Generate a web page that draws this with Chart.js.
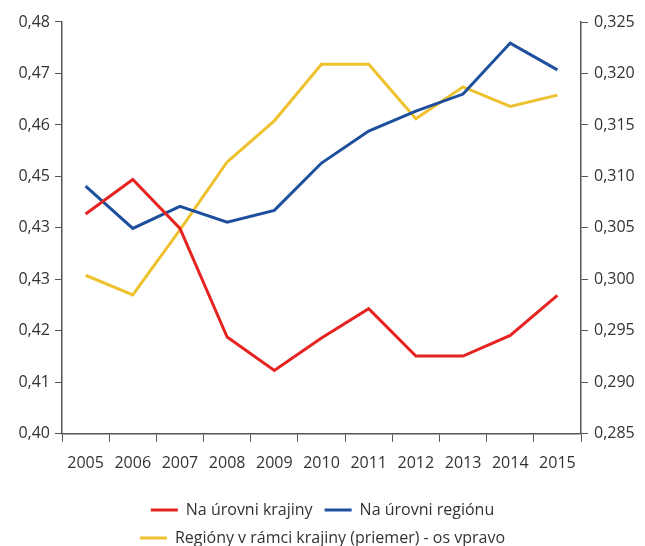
<!DOCTYPE html>
<html>
<head>
<meta charset="utf-8">
<script src="https://cdn.jsdelivr.net/npm/chart.js@4"></script>
<style>
  html, body { margin: 0; padding: 0; background: #fff; overflow: hidden; }
  #wrap { width: 645px; height: 556px; position: relative; }
</style>
</head>
<body>
<div id="wrap"><canvas id="chart"></canvas></div>
<script>
// --- DATA ---
const years = ["2005", "2006", "2007", "2008", "2009", "2010", "2011", "2012", "2013", "2014", "2015"];

// left axis
const krajiny = [0.4427, 0.4494, 0.4399, 0.4188, 0.4123, 0.4186, 0.4243, 0.4151, 0.4151, 0.4191, 0.4269];
const regionu = [0.4481, 0.4399, 0.4442, 0.4411, 0.4434, 0.4526, 0.4588, 0.4627, 0.4660, 0.4759, 0.4707];
// right axis
const priemer = [0.3004, 0.2985, 0.3048, 0.3114, 0.3154, 0.3209, 0.3209, 0.3156, 0.3187, 0.3168, 0.3179];

// tick labels as printed on the original (0,44 shows as "0,43")
const leftTickLabels = ["0,40", "0,41", "0,42", "0,43", "0,43", "0,45", "0,46", "0,47", "0,48"];
const rightTickLabels = ["0,285", "0,290", "0,295", "0,300", "0,305", "0,310", "0,315", "0,320", "0,325"];

const seriesNames = ["Na úrovni krajiny", "Na úrovni regiónu", "Regióny v rámci krajiny (priemer) - os vpravo"];

// --- CHART ---
const axisColor = "#555";
const textColor = "#333";
Chart.defaults.font.family = "'Open Sans', sans-serif";
Chart.defaults.font.size = 16;
Chart.defaults.color = textColor;

function line(label, data, color, axis) {
    return {
        label: label,
        data: data,
        borderColor: color,
        backgroundColor: color,
        borderWidth: 3,
        pointRadius: 0,
        tension: 0,
        yAxisID: axis,
    };
}

new Chart(document.getElementById("chart"), {
    type: "line",
    data: {
        labels: years,
        datasets: [
            line(seriesNames[0], krajiny, "#e52421", "y"),
            line(seriesNames[1], regionu, "#1d4f9c", "y"),
            line(seriesNames[2], priemer, "#eec12f", "y1"),
        ],
    },
    options: {
        responsive: true,
        maintainAspectRatio: false,
        animation: false,
        layout: { padding: { top: 22, left: 0, right: 0, bottom: 0 } },
        scales: {
            x: {
                offset: true,
                grid: { display: true, drawOnChartArea: false, offset: true, tickLength: 8, color: axisColor },
                border: { color: axisColor, width: 1.5 },
                ticks: { padding: 12, maxRotation: 0, autoSkip: false },
                afterFit: (s) => { s.height += 5; },
            },
            y: {
                position: "left",
                min: 0.40,
                max: 0.48,
                afterBuildTicks: (s) => {
                    s.ticks = leftTickLabels.map((t, i) => ({ value: 0.40 + i * 0.01 }));
                },
                afterFit: (s) => { s.width = 62; },
                grid: { display: true, drawOnChartArea: false, tickLength: 7, color: axisColor },
                border: { color: axisColor, width: 1.5 },
                ticks: {
                    padding: 5,
                    callback: (v, i) => leftTickLabels[i],
                },
            },
            y1: {
                position: "right",
                min: 0.285,
                max: 0.325,
                afterBuildTicks: (s) => {
                    s.ticks = rightTickLabels.map((t, i) => ({ value: 0.285 + i * 0.005 }));
                },
                afterFit: (s) => { s.width = 64; },
                grid: { display: true, drawOnChartArea: false, tickLength: 7, color: axisColor },
                border: { color: axisColor, width: 1.5 },
                ticks: {
                    padding: 6,
                    callback: (v, i) => rightTickLabels[i],
                },
            },
        },
        plugins: {
            legend: {
                position: "bottom",
                labels: {
                    boxWidth: 27,
                    boxHeight: 3,
                    padding: 12,
                    color: textColor,
                    generateLabels: (chart) =>
                        Chart.defaults.plugins.legend.labels.generateLabels(chart).map((l) => ({ ...l, lineWidth: 0 })),
                },
            },
            tooltip: { enabled: false },
        },
    },
});
</script>
</body>
</html>
